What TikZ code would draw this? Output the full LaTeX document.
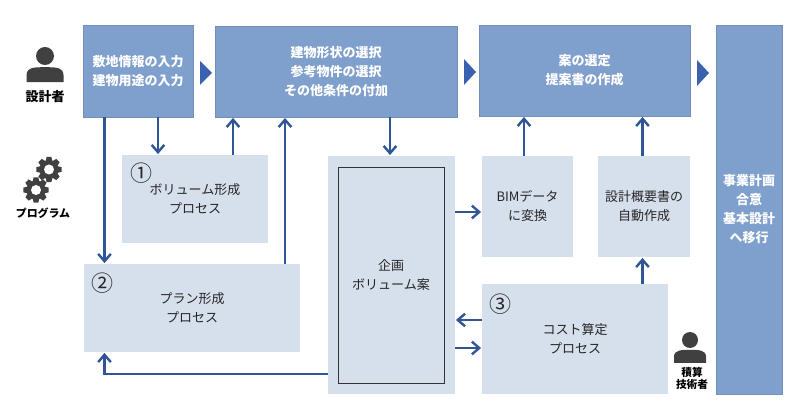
\documentclass[tikz,border=0pt]{standalone}
\usepackage{fontspec}
\setmainfont{Noto Sans CJK JP}
\usetikzlibrary{arrows.meta}
\definecolor{darkbox}{HTML}{7F9FCD}
\definecolor{darkedge}{HTML}{7390BC}
\definecolor{lightbox}{HTML}{D6DFEC}
\definecolor{arrowblue}{HTML}{2F5597}
\definecolor{triblue}{HTML}{3A62B0}
\definecolor{icongray}{HTML}{404040}
\newcommand{\pxbox}[7]{\node[#1,minimum width={(#5-#3)*0.75pt},minimum height={(#6-#4)*0.75pt}] (#2) at ({(#3+#5)/2},{(#4+#6)/2}) {#7};}
\newcommand{\person}[4]{% cx, cy head, r, half width
  \fill[icongray] (#1,#2) circle[radius=#3];
  \fill[icongray] ({#1-#4},{#2+#3+#4*0.93}) -- ({#1-#4},{#2+#3+#4*0.55})
    .. controls ({#1-#4},{#2+#3+#4*0.1}) and ({#1-#4*0.5},{#2+#3+#4*0.12}) .. (#1,{#2+#3+#4*0.12})
    .. controls ({#1+#4*0.5},{#2+#3+#4*0.12}) and ({#1+#4},{#2+#3+#4*0.1}) .. ({#1+#4},{#2+#3+#4*0.55})
    -- ({#1+#4},{#2+#3+#4*0.93}) -- cycle;}
\newcommand{\gear}[3]{% cx, cy, start angle
  \fill[icongray] (#1,#2) circle[radius=9.5];
  \foreach \a in {0,45,...,315}{
    \fill[icongray,rotate around={\a+#3:(#1,#2)}] ({#1-3.4},{#2-8}) -- ({#1-2.4},{#2-12.6}) -- ({#1+2.4},{#2-12.6}) -- ({#1+3.4},{#2-8}) -- cycle;
  }
  \fill[white] (#1,#2) circle[radius=5];}
\tikzset{
  dark/.style={draw=darkedge,line width=0.5pt,fill=darkbox,inner sep=0pt,outer sep=0pt,text=white,align=center,font=\fontsize{9.75}{14.25}\selectfont\bfseries},
  light/.style={fill=lightbox,inner sep=0pt,outer sep=0pt,text=black!85,align=center,font=\fontsize{9.75}{14.25}\selectfont},
  inner/.style={draw=black!80,line width=0.6pt,inner sep=0pt,outer sep=0pt,text=black!85,align=center,font=\fontsize{9.75}{14.25}\selectfont},
  arr/.style={draw=arrowblue,line width=2.2pt,-{Straight Barb[length=5.5pt,width=9.5pt,line width=1.8pt]},shorten >=0.7pt},
  tri/.style={fill=triblue},
  num/.style={inner sep=0pt,text=black!85,font=\fontsize{16.5}{16.5}\selectfont},
  role/.style={inner sep=0pt,align=center,text=black,font=\fontsize{9.75}{12}\selectfont\bfseries},
  rolesmall/.style={inner sep=0pt,align=center,text=black,font=\fontsize{8}{9}\selectfont\bfseries},
}
\begin{document}
\begin{tikzpicture}[x=0.75pt,y=-0.75pt]
\useasboundingbox (0,0) rectangle (800,413);
\fill[white] (0,0) rectangle (800,413);
% top row
\pxbox{dark}{A}{83}{25}{193}{117}{敷地情報の入力\\建物用途の入力}
\pxbox{dark}{B}{215}{26}{457}{117}{建物形状の選択\\参考物件の選択\\その他条件の付加}
\pxbox{dark}{C}{479}{25}{690}{116}{案の選定\\提案書の作成}
\pxbox{dark}{D}{716}{25}{782}{394}{事業計画\\合意\\基本設計\\へ移行}
% process boxes
\pxbox{light}{P1}{122}{155}{268}{243}{ボリューム形成\\プロセス}
\pxbox{light}{P2}{84}{264}{300}{352}{プラン形成\\プロセス}
\pxbox{light}{V}{328}{156}{455}{394}{}
\pxbox{inner}{VI}{338}{167}{444}{383}{企画\\ボリューム案}
\pxbox{light}{BIM}{482}{156}{573}{257}{BIMデータ\\に変換}
\pxbox{light}{AUTO}{598}{156}{690}{257}{設計概要書の\\自動作成}
\pxbox{light}{P3}{482}{284}{668}{394}{コスト算定\\プロセス}
% numbers
\node[num] (n1) at (141,173) {①};
\node[num] (n2) at (102,283) {②};
\node[num] (n3) at (500,304) {③};
% triangles
\fill[tri] (200,61) -- (212,73) -- (200,85) -- cycle;
\fill[tri] (464,59) -- (476,72) -- (464,85) -- cycle;
\fill[tri] (697,60) -- (709,73) -- (697,86) -- cycle;
% connectors
\draw[arr] (A.south -| 104.5,0) -- (P2.north -| 104.5,0);
\draw[arr] (A.south -| 158,0) -- (P1.north -| 158,0);
\draw[arr] (P1.north -| 233,0) -- (B.south -| 233,0);
\draw[arr] (P2.north -| 285,0) -- (B.south -| 285,0);
\draw[arr] (B.south -| 390,0) -- (V.north -| 390,0);
\draw[arr] (BIM.north -| 524,0) -- (C.south -| 524,0);
\draw[arr] (AUTO.north -| 642.5,0) -- (C.south -| 642.5,0);
\draw[arr] (P3.north -| 642.5,0) -- (AUTO.south -| 642.5,0);
\draw[arr] (V.east |- 0,212) -- (BIM.west |- 0,212);
\draw[arr] (P3.west |- 0,320) -- (V.east |- 0,320);
\draw[arr] (V.east |- 0,348) -- (P3.west |- 0,348);
\draw[arr] (V.west |- 0,374) -- (104.5,374) -- (P2.south -| 104.5,0);
% icons and roles
\person{45}{56}{9}{18.5}
\node[role] (r1) at (45,97) {設計者};
\gear{49}{169.5}{0}
\gear{36}{190}{0}
\node[role,font=\fontsize{8.2}{10}\selectfont\bfseries] (r2) at (43,213) {プログラム};
\person{690}{340}{8}{16}
\node[rolesmall] (r3) at (692,378) {積算\\技術者};
\end{tikzpicture}
\end{document}
